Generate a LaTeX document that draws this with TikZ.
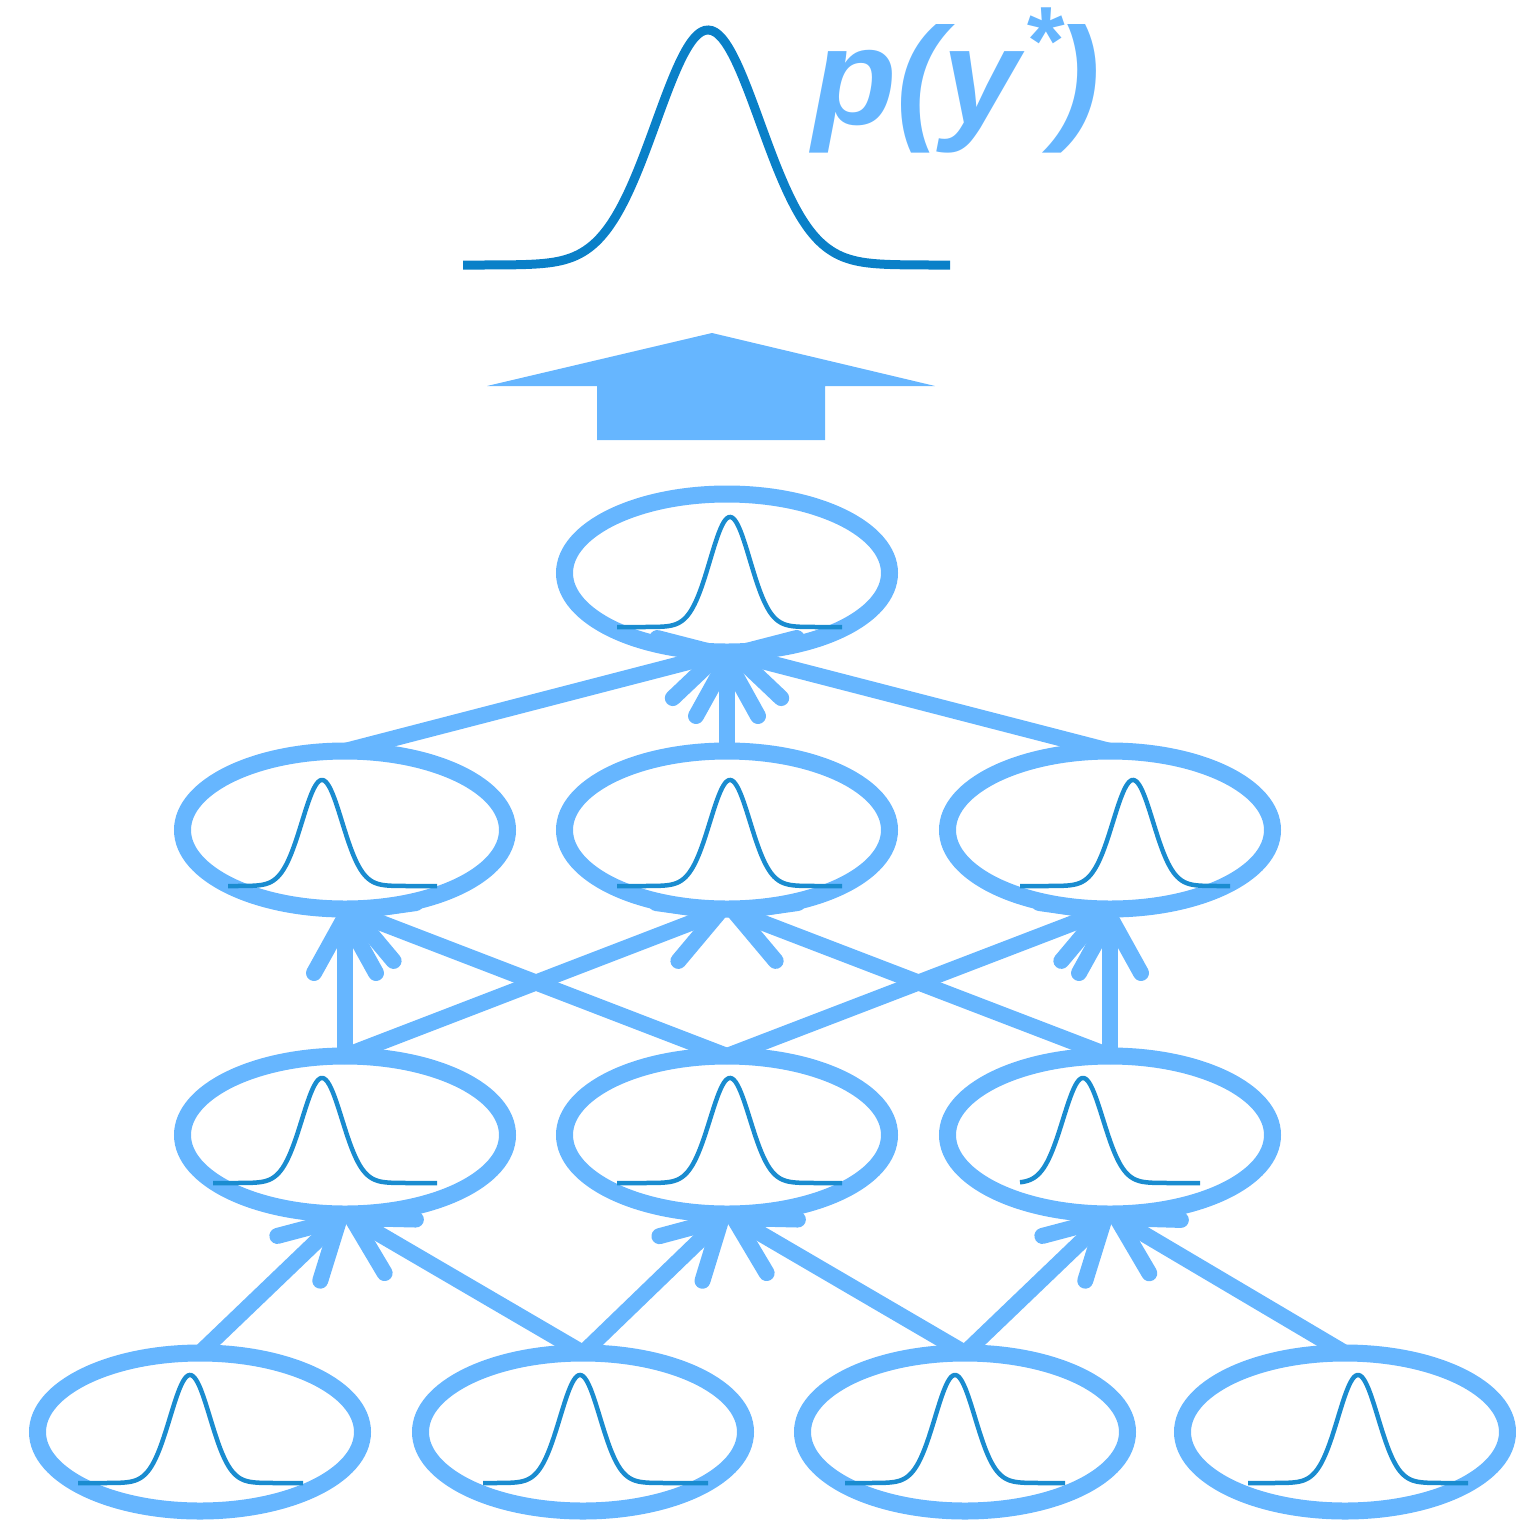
\documentclass[tikz,border=0pt]{standalone}
\usepackage{fontspec}
\setmainfont{Liberation Sans}
\usetikzlibrary{shapes.geometric,arrows.meta}
\definecolor{lb}{HTML}{66B6FF}
\definecolor{db}{HTML}{0A80C8}
\definecolor{sb}{HTML}{1A8CD0}
\tikzset{
  ell/.style={ellipse, draw=lb, line width=17pt, minimum width=325pt, minimum height=158pt, inner sep=0pt, outer sep=0pt},
  conn/.style={draw=lb, line width=16pt, line cap=round, -{Straight Barb[length=56pt,width=62pt,round,line width=16pt]}},
  sg/.style={draw=sb, line width=4.5pt},
  bg/.style={draw=db, line width=9pt}
}
\newcommand\gss[7]{\draw[#7] plot[domain=#1:#2, samples=140, smooth] (\x, {#4-#5*exp(-0.5*((\x-#3)/#6)^2)});}
\begin{document}
\begin{tikzpicture}[x=1pt,y=-1pt]
\useasboundingbox (0,0) rectangle (1516,1527);
% top gaussian and label
\gss{463}{950}{708}{265}{235}{52}{bg}
\node[anchor=base west, inner sep=0pt, text=lb] (lab) at (812,124) {\fontsize{138}{138}\selectfont\bfseries\itshape p(y\kern4pt\raisebox{50pt}{\fontsize{97}{97}\selectfont *}\kern-6pt)};
% big arrow
\fill[lb] (487,386) -- (712,333) -- (935,386) -- (825,386) -- (825,440) -- (597,440) -- (597,386) -- cycle;
% ellipses
\node[ell] (t) at (727,573) {};
\node[ell] (m1) at (345,830) {};
\node[ell] (m2) at (727,830) {};
\node[ell] (m3) at (1110,830) {};
\node[ell] (n1) at (345,1135) {};
\node[ell] (n2) at (727,1135) {};
\node[ell] (n3) at (1110,1135) {};
\node[ell] (b1) at (200,1432) {};
\node[ell] (b2) at (583,1432) {};
\node[ell] (b3) at (965,1432) {};
\node[ell] (b4) at (1345,1432) {};
% small gaussians
\gss{617}{842}{730}{627}{110}{20}{sg}
\gss{228}{437}{322}{886}{106}{20}{sg}
\gss{617}{842}{730}{886}{106}{20}{sg}
\gss{1020}{1230}{1133}{886}{106}{20}{sg}
\gss{213}{437}{322}{1183}{105}{20}{sg}
\gss{617}{842}{730}{1183}{105}{20}{sg}
\gss{1020}{1200}{1083}{1183}{105}{20}{sg}
\gss{78}{303}{190}{1483}{108}{20}{sg}
\gss{483}{708}{580}{1483}{108}{20}{sg}
\gss{845}{1065}{955}{1483}{108}{20}{sg}
\gss{1248}{1468}{1358}{1483}{108}{20}{sg}
% connectors
\draw[conn] (m1.north) -- (t.south);
\draw[conn] (m2.north) -- (t.south);
\draw[conn] (m3.north) -- (t.south);
\draw[conn] (n1.north) -- (m1.south);
\draw[conn] (n1.north) -- (m2.south);
\draw[conn] (n2.north) -- (m1.south);
\draw[conn] (n2.north) -- (m3.south);
\draw[conn] (n3.north) -- (m2.south);
\draw[conn] (n3.north) -- (m3.south);
\draw[conn] (b1.north) -- (n1.south);
\draw[conn] (b2.north) -- (n1.south);
\draw[conn] (b2.north) -- (n2.south);
\draw[conn] (b3.north) -- (n2.south);
\draw[conn] (b3.north) -- (n3.south);
\draw[conn] (b4.north) -- (n3.south);
\end{tikzpicture}
\end{document}
